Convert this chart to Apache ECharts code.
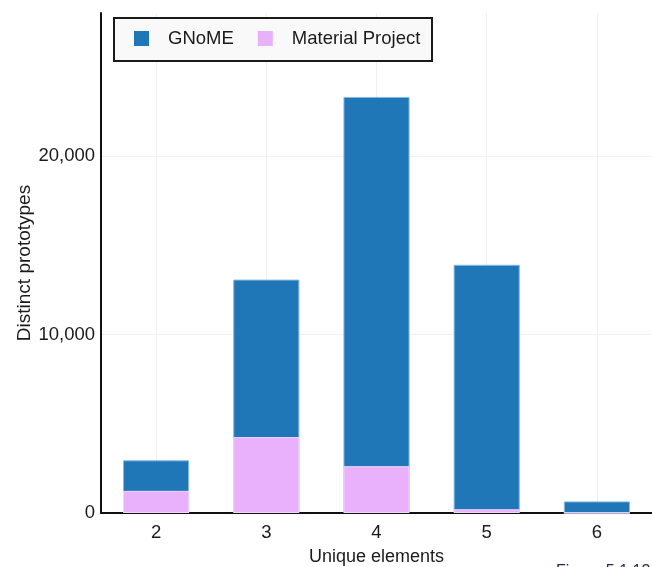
<!DOCTYPE html>
<html><head><meta charset="utf-8">
<script src="https://cdn.jsdelivr.net/npm/echarts@6/dist/echarts.min.js"></script>
<style>html,body{margin:0;padding:0;background:#fff}#c{width:652px;height:567px}</style>
</head><body><div id="c"></div>
<script>
const categories = ['2', '3', '4', '5', '6'];
const gnome = [2950, 13070, 23300, 13900, 650];
const materialProject = [1240, 4250, 2620, 210, 0];
const seriesNames = ['GNoME', 'Material Project'];
const yAxisName = 'Distinct prototypes';
const xAxisName = 'Unique elements';
const footerText = 'Figure 5.1.13';

const FONT = '"Liberation Sans", Arial, sans-serif';
const chart = echarts.init(document.getElementById('c'), null, {renderer: 'canvas'});
chart.setOption({
  animation: false,
  backgroundColor: '#ffffff',
  textStyle: {fontFamily: FONT},
  grid: {left: 101, right: 0, top: 13, bottom: 54, containLabel: false, outerBoundsMode: 'none'},
  graphic: [
    {type: 'rect', z: 1, shape: {x: 114, y: 18, width: 318, height: 43},
     style: {fill: '#f9f9f9', stroke: '#1a1a1a', lineWidth: 2}},
    {type: 'text', z: 1, left: 556, top: 564,
     style: {text: footerText, fill: '#1d2b4f', font: '16px ' + FONT}}
  ],
  legend: {
    left: 128, top: 25, z: 10,
    icon: 'rect', itemWidth: 15, itemHeight: 15, itemGap: 24,
    padding: [4, 4, 4, 6],
    itemStyle: {borderWidth: 0},
    textStyle: {fontSize: 18.5, color: '#1a1a1a', fontFamily: FONT, padding: [0, 0, 0, 14]},
    data: seriesNames
  },
  xAxis: {
    type: 'category', data: categories,
    name: xAxisName, nameLocation: 'middle', nameGap: 35, nameMoveOverlap: false,
    nameTextStyle: {fontSize: 18, color: '#1a1a1a', fontFamily: FONT},
    axisLine: {show: true, lineStyle: {color: '#111', width: 2}},
    axisTick: {show: false, alignWithLabel: true},
    axisLabel: {fontSize: 18.5, color: '#1a1a1a', margin: 10, fontFamily: FONT},
    splitLine: {show: true, alignWithLabel: true, lineStyle: {color: '#f0f0f0', width: 1}},
    boundaryGap: true
  },
  yAxis: {
    type: 'value', min: 0, max: 28000, interval: 10000,
    name: yAxisName, nameLocation: 'middle', nameGap: 67, nameMoveOverlap: false,
    nameTextStyle: {fontSize: 19, color: '#1a1a1a', fontFamily: FONT},
    axisLine: {show: true, lineStyle: {color: '#111', width: 2}},
    axisTick: {show: false},
    axisLabel: {fontSize: 18.5, color: '#1a1a1a', margin: 6, showMaxLabel: false, fontFamily: FONT,
      formatter: v => v.toLocaleString('en-US')},
    splitLine: {show: true, showMaxLine: false, lineStyle: {color: '#f0f0f0', width: 1}}
  },
  series: [
    {name: seriesNames[0], type: 'bar', data: gnome, barWidth: '60%',
     itemStyle: {color: '#1f77b8', borderColor: '#86b8e2', borderWidth: 1}},
    {name: seriesNames[1], type: 'bar', data: materialProject, barWidth: '60%', barGap: '-100%',
     itemStyle: {color: '#e9b0fc', borderColor: '#f2d8fd', borderWidth: 1}}
  ]
});
</script></body></html>
